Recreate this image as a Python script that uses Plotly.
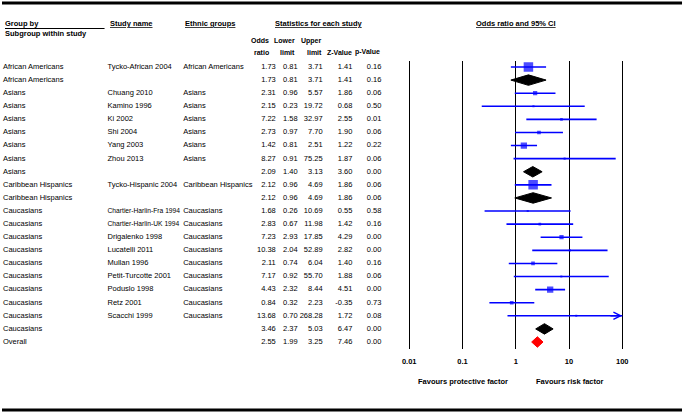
import math
import plotly.graph_objects as go

# ---- data ----
group_by = ["African Americans", "African Americans",
            "Asians", "Asians", "Asians", "Asians", "Asians", "Asians", "Asians",
            "Caribbean Hispanics", "Caribbean Hispanics",
            "Caucasians", "Caucasians", "Caucasians", "Caucasians", "Caucasians",
            "Caucasians", "Caucasians", "Caucasians", "Caucasians", "Caucasians",
            "Overall"]
study_name = ["Tycko-African 2004", "",
              "Chuang 2010", "Kamino 1996", "Ki 2002", "Shi 2004", "Yang 2003", "Zhou 2013", "",
              "Tycko-Hispanic 2004", "",
              "Chartier-Harlin-Fra 1994", "Chartier-Harlin-UK 1994", "Drigalenko 1998",
              "Lucatelli 2011", "Mullan 1996", "Petit-Turcotte 2001", "Poduslo 1998",
              "Retz 2001", "Scacchi 1999", "",
              ""]
ethnic = ["African Americans", "",
          "Asians", "Asians", "Asians", "Asians", "Asians", "Asians", "",
          "Caribbean Hispanics", "",
          "Caucasians", "Caucasians", "Caucasians", "Caucasians", "Caucasians",
          "Caucasians", "Caucasians", "Caucasians", "Caucasians", "",
          ""]
odds_ratio = [1.73, 1.73, 2.31, 2.15, 7.22, 2.73, 1.42, 8.27, 2.09, 2.12, 2.12,
              1.68, 2.83, 7.23, 10.38, 2.11, 7.17, 4.43, 0.84, 13.68, 3.46, 2.55]
lower = [0.81, 0.81, 0.96, 0.23, 1.58, 0.97, 0.81, 0.91, 1.40, 0.96, 0.96,
         0.26, 0.67, 2.93, 2.04, 0.74, 0.92, 2.32, 0.32, 0.70, 2.37, 1.99]
upper = [3.71, 3.71, 5.57, 19.72, 32.97, 7.70, 2.51, 75.25, 3.13, 4.69, 4.69,
         10.69, 11.98, 17.85, 52.89, 6.04, 55.70, 8.44, 2.23, 268.28, 5.03, 3.25]
z_value = [1.41, 1.41, 1.86, 0.68, 2.55, 1.90, 1.22, 1.87, 3.60, 1.86, 1.86,
           0.55, 1.42, 4.29, 2.82, 1.40, 1.88, 4.51, -0.35, 1.72, 6.47, 7.46]
p_value = [0.16, 0.16, 0.06, 0.50, 0.01, 0.06, 0.22, 0.06, 0.00, 0.06, 0.06,
           0.58, 0.16, 0.00, 0.00, 0.16, 0.06, 0.00, 0.73, 0.08, 0.00, 0.00]
# relative study weights (box area); 0 for summary rows
rel_weight = [100, 0, 20, 5, 8, 15, 44, 5, 0, 100, 0,
              5, 8, 20, 5, 15, 5, 44, 15, 3, 0, 0]
tick_vals = [0.01, 0.1, 1, 10, 100]
tick_text = ["0.01", "0.1", "1", "10", "100"]

W, H = 686, 416
FONT = "Liberation Sans, Arial, sans-serif"
FS = 7.5
BLUE = "#0000FF"

rows = list(range(len(group_by)))
is_summary = [s == "" for s in study_name]


def px(x):
    return x / W


def py(y):
    return 1 - y / H


fig = go.Figure()

# CI lines for individual studies (clipped at 100 like the original)
cx, cy = [], []
for i in rows:
    if not is_summary[i]:
        cx += [lower[i], min(upper[i], 100), None]
        cy += [i, i, None]
fig.add_trace(go.Scatter(x=cx, y=cy, mode="lines", line=dict(color=BLUE, width=1.6),
                         hoverinfo="skip", showlegend=False))

# study boxes
si = [i for i in rows if not is_summary[i]]
fig.add_trace(go.Scatter(
    x=[odds_ratio[i] for i in si], y=si, mode="markers",
    marker=dict(symbol="square", color=BLUE,
                size=[max(2, 9.5 * math.sqrt(rel_weight[i] / 100)) for i in si],
                line=dict(width=0)),
    hoverinfo="skip", showlegend=False))

# summary diamonds
for i in rows:
    if is_summary[i]:
        colr = "#FF0000" if group_by[i] == "Overall" else "black"
        h = 0.4
        fig.add_trace(go.Scatter(
            x=[lower[i], odds_ratio[i], upper[i], odds_ratio[i], lower[i]],
            y=[i, i - h, i, i + h, i], mode="lines", fill="toself",
            fillcolor=colr, line=dict(color=colr, width=1),
            hoverinfo="skip", showlegend=False))

# arrow for the CI running past 100
for i in rows:
    if upper[i] > 100:
        fig.add_annotation(x=2, y=i, ax=1.75, ay=i, xref="x", yref="y", axref="x", ayref="y",
                           text="", showarrow=True, arrowhead=5, arrowsize=1.1,
                           arrowwidth=1.3, arrowcolor=BLUE)

# table columns as text traces on a pixel-scaled axis
def col(x, vals, align, size=FS):
    fig.add_trace(go.Scatter(
        x=[x] * len(vals), y=rows, xaxis="x2", yaxis="y", mode="text", text=vals,
        textposition="middle right" if align == "left" else "middle left",
        textfont=dict(family=FONT, size=size, color="black"), cliponaxis=False,
        hoverinfo="skip", showlegend=False))

col(1, group_by, "left")
# long study names get a slightly smaller font so they stay inside their column
col(106, study_name, "left", size=[6.7 if len(s) > 20 else FS for s in study_name])
col(182, ethnic, "left")
col(275, [f"{v:.2f}" for v in odds_ratio], "right")
col(297, [f"{v:.2f}" for v in lower], "right")
col(322, [f"{v:.2f}" for v in upper], "right")
col(352, [f"{v:.2f}" for v in z_value], "right")
col(381, [f"{v:.2f}" for v in p_value], "right")

# headers
def head(x, y, txt, anchor="left", under=False, size=FS):
    f = dict(family=FONT, size=size, color="black")
    if under:
        f["lineposition"] = "under"
    fig.add_annotation(x=px(x), y=py(y), xref="paper", yref="paper", text="<b>" + txt + "</b>",
                       showarrow=False, xanchor=anchor, yanchor="middle", font=f)

head(1, 23, "Group by")
head(1, 33, "Subgroup within study")
head(106, 23, "Study name", under=True)
head(182, 23, "Ethnic groups", under=True)
head(272, 23, "Statistics for each study", under=True)
head(516, 23, "Odds ratio and 95% CI", anchor="center", under=True)
head(270, 41, "Odds", anchor="right", size=7)
head(270, 52, "ratio", anchor="right", size=7)
head(296, 41, "Lower", anchor="right", size=7)
head(296, 52, "limit", anchor="right", size=7)
head(323, 41, "Upper", anchor="right", size=7)
head(323, 52, "limit", anchor="right", size=7)
head(354, 52, "Z-Value", anchor="right", size=7)
head(382, 52, "p-Value", anchor="right", size=7)
head(463, 381, "Favours protective factor", anchor="center")
head(570, 381, "Favours risk factor", anchor="center")

fig.add_shape(type="line", xref="paper", yref="paper", x0=px(3), x1=px(103), y0=py(28.5), y1=py(28.5),
              line=dict(color="black", width=1))
for yy in (3, 410):
    fig.add_shape(type="line", xref="paper", yref="paper", x0=0, x1=px(683), y0=py(yy), y1=py(yy),
                  line=dict(color="black", width=3))

dec = 53.5
x0 = 409 - 0.1 * dec
x1 = 623 + 0.1 * dec
fig.update_layout(
    width=W, height=H, margin=dict(l=0, r=0, t=0, b=0),
    paper_bgcolor="white", plot_bgcolor="white",
    xaxis=dict(type="log", range=[-2.1, 2.1], domain=[px(x0), px(x1)],
               tickvals=tick_vals, ticktext=["<b>" + t + "</b>" for t in tick_text],
               showgrid=True, gridcolor="black", gridwidth=1.4, ticks="",
               showline=False, zeroline=False, ticklabelstandoff=6,
               tickfont=dict(family=FONT, size=FS, color="black"), anchor="y"),
    xaxis2=dict(range=[0, 398], domain=[0, px(398)], visible=False, anchor="y"),
    yaxis=dict(range=[21 + 7 / 13.1, -6 / 13.1], domain=[py(349), py(61)],
               visible=False, anchor="x"),
)

fig.write_html("out.html", config={"displayModeBar": False},
               post_script="document.body.style.margin='0px';")
